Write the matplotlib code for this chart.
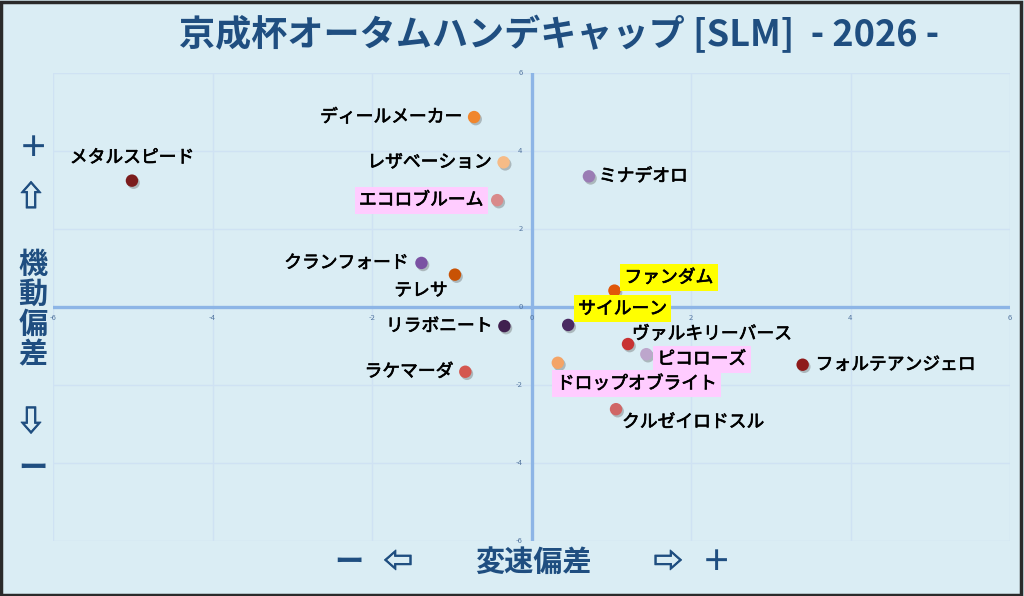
import matplotlib
matplotlib.use('Agg')
import matplotlib.pyplot as plt
import matplotlib.patheffects as pe
from matplotlib.patches import Rectangle

plt.rcParams['font.family'] = ['Noto Sans CJK JP', 'DejaVu Sans']

# データ (変速偏差, 機動偏差)
names = ['メタルスピード', 'ディールメーカー', 'レザベーション', 'エコロブルーム',
         'クランフォード', 'テレサ', 'リラボニート', 'ラケマーダ',
         'ファンダム', 'サイルーン', 'ヴァルキリーバース', 'ピコローズ',
         'ドロップオブライト', 'フォルテアンジェロ', 'クルゼイロドスル', 'ミナデオロ']
speed = [-5.01, -0.72, -0.35, -0.43, -1.38, -0.96, -0.34, -0.83,
         1.04, 0.46, 1.21, 1.44, 0.33, 3.40, 1.06, 0.72]
mobility = [3.24, 4.87, 3.71, 2.74, 1.13, 0.83, -0.49, -1.66,
            0.42, -0.46, -0.95, -1.21, -1.43, -1.48, -2.62, 3.35]
colors = ['#7b1c1c', '#f0862c', '#f6bb86', '#d98a8a', '#7b52a3', '#c85205',
          '#40204f', '#d4574f', '#e0560a', '#4a2a62', '#c83232', '#bda6cc',
          '#f4a466', '#8e1a1a', '#d06666', '#9a7cb4']
ticks = [-6, -4, -2, 0, 2, 4, 6]

# ラベル位置 (px オフセット, 揃え, 背景)
label_style = {
    'メタルスピード': (0, 23, 'center', None),
    'ディールメーカー': (-12, 0, 'right', None),
    'レザベーション': (-12, 0, 'right', None),
    'エコロブルーム': (-14, 0, 'right', '#ffccff'),
    'クランフォード': (-13, 0, 'right', None),
    'テレサ': (-34, -16, 'center', None),
    'リラボニート': (-12, 0, 'right', None),
    'ラケマーダ': (-12, 0, 'right', None),
    'ファンダム': (10, 13, 'left', '#ffff00'),
    'サイルーン': (10, 16, 'left', '#ffff00'),
    'ヴァルキリーバース': (4, 10, 'left', None),
    'ピコローズ': (11, -5, 'left', '#ffccff'),
    'ドロップオブライト': (-1, -21, 'left', '#ffccff'),
    'フォルテアンジェロ': (13, 0, 'left', None),
    'クルゼイロドスル': (6, -13, 'left', None),
    'ミナデオロ': (10, 0, 'left', None),
}

bg = '#daedf4'
navy = '#1f4e80'
tickc = '#5577a0'

fig = plt.figure(figsize=(10.24, 5.96), dpi=100, facecolor=bg)
ax = fig.add_axes([53/1024, 1 - 541/596, (1010 - 53)/1024, (541 - 73)/596])
ax.set_facecolor(bg)
ax.set_xlim(-6, 6)
ax.set_ylim(-6, 6)
for s in ax.spines.values():
    s.set_visible(False)
ax.set_xticks([])
ax.set_yticks([])

for t in ticks:
    ax.axvline(t, color='#cfe2f3', lw=1, zorder=0)
    ax.axhline(t, color='#cfe2f3', lw=1, zorder=0)
ax.axhline(0, color='#8db5e6', lw=2.4, zorder=1)
ax.axvline(0, color='#8db5e6', lw=2.4, zorder=1)

for t in ticks:
    ax.annotate(str(t), (t, 0), xytext=(0, -11), textcoords='offset pixels',
                ha='center', va='center', fontsize=5.5, color=tickc,
                annotation_clip=False)
    ax.annotate(str(t), (0, t), xytext=(-9, 0), textcoords='offset pixels',
                ha='right', va='center', fontsize=5.5, color=tickc,
                annotation_clip=False)

shadow = [pe.SimplePatchShadow(offset=(1.2, -1.5), shadow_rgbFace='#555555', alpha=0.35),
          pe.Normal()]
ax.scatter(speed, mobility, s=80, c=colors, zorder=3, linewidths=0,
           path_effects=shadow)

txt_fx = [pe.withStroke(linewidth=0.5, foreground='black')]
for n, x, y in zip(names, speed, mobility):
    dx, dy, ha, box = label_style[n]
    kw = {}
    if box:
        kw['bbox'] = dict(boxstyle='square,pad=0.25', fc=box, ec='none')
    ax.annotate(n, (x, y), xytext=(dx, dy), textcoords='offset pixels',
                ha=ha, va='center', fontsize=12.8, color='black', zorder=4,
                path_effects=txt_fx, **kw)

# タイトル
fig.text(559/1024, 1 - 35/596, '京成杯オータムハンデキャップ [SLM]  - 2026 -',
         ha='center', va='center', fontsize=26, fontweight='bold', color=navy)

# 縦軸ラベル
side = dict(ha='center', va='center', fontweight='bold', color=navy)
arrow_fx = [pe.withStroke(linewidth=0.7, foreground=navy)]
fig.text(33/1024, 1 - 148/596, '＋', fontsize=21, **side)
fig.text(31/1024, 1 - 197/596, '⇧', fontsize=21, path_effects=arrow_fx, **side)
for i, ch in enumerate('機動偏差'):
    fig.text(33/1024, 1 - (264 + 30 * i)/596, ch, fontsize=21, **side)
fig.text(31/1024, 1 - 422/596, '⇩', fontsize=21, path_effects=arrow_fx, **side)
fig.text(33/1024, 1 - 468/596, 'ー', fontsize=21, **side)

# 横軸ラベル
fig.text(349/1024, 1 - 562/596, 'ー', fontsize=21, **side)
fig.text(398/1024, 1 - 562/596, '⇦', fontsize=21, path_effects=arrow_fx, **side)
fig.text(533/1024, 1 - 562/596, '変速偏差', fontsize=21, **side)
fig.text(668/1024, 1 - 562/596, '⇨', fontsize=21, path_effects=arrow_fx, **side)
fig.text(716/1024, 1 - 562/596, '＋', fontsize=21, **side)

fig.patches.append(Rectangle((1/1024, 1/596), 1020/1024, 593/596,
                             transform=fig.transFigure, fill=False,
                             ec='#2a2a2a', lw=2.5))

fig.savefig('out.png', dpi=100, facecolor=bg)
